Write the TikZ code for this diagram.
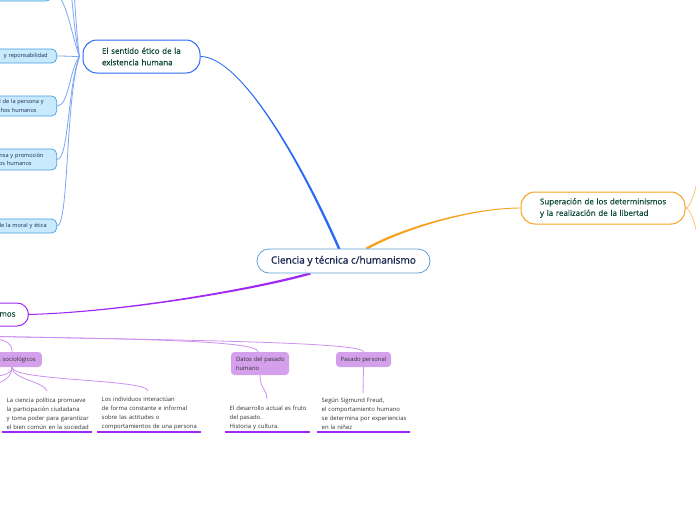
\documentclass[tikz,border=0pt]{standalone}
\usepackage{fontspec}
\setmainfont{Open Sans}
\newfontfamily\semib{Open Sans}[FakeBold=0.9]
\newfontfamily\medf{Open Sans}[FakeBold=0.4]
\usetikzlibrary{calc}
\pgfdeclarelayer{bg}
\pgfsetlayers{bg,main}
\definecolor{cblue}{RGB}{40,105,245}
\definecolor{cbluelt}{RGB}{125,165,245}
\definecolor{csubfill}{RGB}{200,234,252}
\definecolor{csubdraw}{RGB}{70,160,225}
\definecolor{ccentdraw}{RGB}{95,160,215}
\definecolor{ccenttext}{RGB}{25,40,80}
\definecolor{corange}{RGB}{247,162,30}
\definecolor{corangelt}{RGB}{249,196,120}
\definecolor{cpurple}{RGB}{160,40,245}
\definecolor{cpurplelt}{RGB}{205,145,240}
\definecolor{cpfill}{RGB}{212,160,236}
\definecolor{ctopictext}{RGB}{15,72,58}
\definecolor{cleaf}{RGB}{50,50,50}
\tikzset{
  central/.style={draw=ccentdraw, line width=0.8pt, fill=white, rounded corners=12pt,
    minimum width=173pt, minimum height=24pt, inner sep=0pt, text=ccenttext,
    font=\semib\fontsize{10.1}{12}\selectfont},
  topic/.style={draw=#1, line width=1pt, fill=white, rounded corners=14pt, inner ysep=0pt,
    inner xsep=19pt, text=ctopictext, align=left, font=\medf\fontsize{8}{11.5}\selectfont},
  bsub/.style={draw=csubdraw, line width=0.7pt, fill=csubfill, rounded corners=5pt,
    inner ysep=0pt, text width=100pt, align=right, anchor=east, text=ccenttext,
    font=\fontsize{5.6}{8.5}\selectfont},
  psub/.style={fill=cpfill, rounded corners=3.5pt, inner ysep=0pt, text=cleaf,
    font=\fontsize{5.9}{9}\selectfont},
  leaf/.style={inner xsep=4.5pt, inner ysep=2pt, anchor=south west, text=cleaf, align=left,
    font=\fontsize{5.9}{9}\selectfont},
  thinb/.style={draw=cbluelt, line width=0.8pt},
  thino/.style={draw=corangelt, line width=0.8pt},
  thinp/.style={draw=cpurplelt, line width=0.8pt},
  uline/.style={draw=cpurple, line width=1.4pt},
}
\begin{document}
\begin{tikzpicture}[x=1pt,y=-1pt]
\useasboundingbox (0,0) rectangle (696,520);
\begin{pgfonlayer}{bg}
\fill[white] (0,0) rectangle (696,520);
\end{pgfonlayer}
\clip (0,0) rectangle (696,520);

% central
\node[central] (c) at (343.5,261) {Ciencia y técnica c/humanismo};

% main topics
\node[topic=cblue, minimum height=33pt, text width=79pt] (t1) at (141.5,56.5)
  {\mbox{El sentido ético de la}\\\mbox{existencia humana}};
\node[topic=corange, minimum height=32pt, text width=126pt] (t2) at (603,208)
  {\mbox{Superación de los determinismos}\\\mbox{y la realización de la libertad}};
\node[topic=cpurple, rounded corners=11.5pt, minimum height=23pt, inner xsep=13pt,
  text width=60pt, align=right, anchor=east] (t3) at (29,314.5) {mos};

% blue subtopics
\node[bsub, inner xsep=8pt, minimum height=18pt] (b0) at (52,-8) {};
\node[bsub, inner xsep=9pt, minimum height=14pt] (b1) at (57,56) {y reponsabilidad};
\node[bsub, inner xsep=13pt, minimum height=20pt] (b2) at (57,106)
  {d de la persona y\\chos humanos\makebox[7pt]{}};
\node[bsub, inner xsep=13pt, minimum height=21pt] (b3) at (57,159.5)
  {nsa y promoción\\os humanos\makebox[12pt]{}};
\node[bsub, inner xsep=10pt, minimum height=14pt] (b4) at (57,226) {de la moral y ética};

% purple subtopics
\node[psub, inner xsep=6pt, text width=60pt, align=right, minimum height=15pt, anchor=east]
  (s1) at (42,359.5) {s sociológicos};
\node[psub, inner xsep=5pt, text width=48pt, align=left, minimum height=23pt]
  (d1) at (260,363.5) {\mbox{Datos del pasado}\\humano};
\node[psub, inner xsep=0pt, minimum width=55pt, minimum height=15pt]
  (p1) at (363.5,359.5) {Pasado personal};

% leaves
\node[leaf, text width=81pt] (L1) at (2,432)
  {\mbox{La ciencia política promueve}\\\mbox{la participación ciudadana}\\\mbox{y toma poder para garantizar}\\\mbox{el bien común en la sociedad}};
\node[leaf, text width=95pt] (L2) at (97,432)
  {\mbox{Los individuos interactúan}\\\mbox{de forma constante e informal}\\\mbox{sobre las actitudes o}\\\mbox{comportamientos de una persona}};
\node[leaf, text width=76pt] (L3) at (225,432)
  {\mbox{El desarrollo actual es fruto}\\\mbox{del pasado.}\\\mbox{Historia y cultura.}};
\node[leaf, text width=84pt] (L4) at (317,432)
  {\mbox{Según Sigmund Freud,}\\\mbox{el comportamiento humano}\\\mbox{se determina por experiencias}\\\mbox{en la niñez}};

\draw[uline] (L1.south west) -- (L1.south east);
\draw[uline] (L2.south west) -- (L2.south east);
\draw[uline] (L3.south west) -- (L3.south east);
\draw[uline] (L4.south west) -- (L4.south east);

\begin{pgfonlayer}{bg}
\clip (0,0) rectangle (696,520);
% tapered main connectors
\coordinate (bE) at ($(c.north)+(-4,0)$);
\fill[cblue] ($(t1.east)+(0,-0.45)$) .. controls +(40,0) and +(-39,-89) .. ($(bE)+(1.3,1)$)
  -- ($(bE)+(-1.3,1)$) .. controls +(-39,-89) and +(40,0) .. ($(t1.east)+(0,0.45)$) -- cycle;
\coordinate (oS) at ($(c.north)+(23,0)$);
\fill[corange] ($(oS)+(-0.6,-1.05)$) .. controls +(33.5,-19) and +(-51,0) .. ($(t2.west)+(0,-0.45)$)
  -- ($(t2.west)+(0,0.45)$) .. controls +(-51,0) and +(33.5,-19) .. ($(oS)+(0.6,1.05)$) -- cycle;
\coordinate (pS) at ($(c.south)+(-33,0)$);
\fill[cpurple] ($(pS)+(-0.3,-1.1)$) .. controls +(-60.5,17) and +(91,-2.5) .. ($(t3.east)+(0,-0.5)$)
  -- ($(t3.east)+(0,0.5)$) .. controls +(91,-2.5) and +(-60.5,17) .. ($(pS)+(0.3,1.1)$) -- cycle;

% blue thin connectors
\coordinate (bp) at ($(t1.west)+(-3,0)$);
\coordinate (bu1) at (57,-60);
\coordinate (bu2) at (57,-120);
\draw[thinb] (bp) .. controls +(-8,0) and +(10,0) .. (b1.east);
\draw[thinb] (bp) .. controls +(-10,12.5) and +(12,0) .. (b2.east);
\draw[thinb] (bp) .. controls +(-12,30) and +(12,0) .. (b3.east);
\draw[thinb] (bp) .. controls +(-14,40) and +(12,0) .. (b4.east);
\draw[thinb] (bp) .. controls +(-8,-20) and +(14,0) .. (b0.east);
\draw[thinb] (bp) .. controls +(-8,-30) and +(14,0) .. (bu1);
\draw[thinb] (bp) .. controls +(-6,-40) and +(14,0) .. (bu2);

% orange thin connectors
\coordinate (ou1) at (705,140);
\coordinate (ou2) at (705,275);
\draw[thino] (t2.east) .. controls +(8,0) and +(-4,25) .. (ou1);
\draw[thino] (t2.east) .. controls +(8,0) and +(-4,-25) .. (ou2);

% purple thin connectors
\coordinate (pp) at (-30,336);
\draw[thinp] (pp) .. controls +(35,2) and +(0,-10) .. ($(s1.north east)+(-30,0)$);
\draw[thinp] (pp) .. controls +(150,3) and +(0,-12) .. ($(d1.north)+(-2,0)$);
\draw[thinp] (pp) .. controls +(200,4) and +(0,-10) .. (p1.north);
\coordinate (s1b) at ($(s1.south east)+(-30,0)$);
\coordinate (l1t) at (47,391);
\coordinate (l2t) at (148,391);
\coordinate (l3t) at (267,399);
\coordinate (l4t) at (363,393);
\coordinate (sl1) at (-5,376);
\coordinate (sl2) at (-5,384);
\draw[thinp] (s1b) .. controls +(0,12) and +(-4,-10) .. (l1t);
\draw[thinp] (s1b) .. controls +(0,14) and +(0,-12) .. (l2t);
\draw[thinp] (s1b) .. controls +(0,7) and +(6,0) .. (sl1);
\draw[thinp] (s1b) .. controls +(0,10) and +(8,-2) .. (sl2);
\draw[thinp] (d1.south) .. controls +(0,14) and +(0,-10) .. (l3t);
\draw[thinp] (p1.south) -- (l4t);
\end{pgfonlayer}
\end{tikzpicture}
\end{document}
